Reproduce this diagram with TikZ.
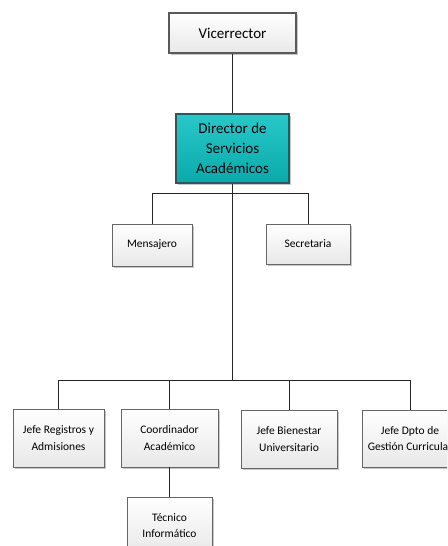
\documentclass[tikz,border=0pt]{standalone}
\usepackage{fontspec}
\setmainfont{Carlito}
\usetikzlibrary{shadows}
\definecolor{tealtop}{RGB}{40,200,200}
\definecolor{tealbot}{RGB}{10,170,170}
\definecolor{tealedge}{RGB}{40,90,90}
\begin{document}
\begin{tikzpicture}[x=1pt,y=-1pt,
  box/.style={draw=gray!80!black, line width=0.7pt, top color=white, bottom color=gray!18,
    align=center, inner sep=2pt, font=\fontsize{11.5}{16.5}\selectfont,
    drop shadow={shadow xshift=1.5pt, shadow yshift=-1.5pt, fill=gray!55, opacity=0.8}},
  bigbox/.style={box, line width=1.2pt, draw=gray!70!black, font=\fontsize{15}{20}\selectfont},
  headbox/.style={bigbox, draw=tealedge, top color=tealtop, bottom color=tealbot},
  link/.style={draw=black!85, line width=0.7pt}]
\useasboundingbox (0,0) rectangle (447,546);
\clip (0,0) rectangle (447,546);

% top of the hierarchy
\node[bigbox, minimum width=127, minimum height=40] (vr) at (232.5,33) {Vicerrector};
\node[headbox, minimum width=113, minimum height=69] (dir) at (232.5,148.5) {Director de\\Servicios\\Académicos};

% staff directly attached to the director
\node[box, minimum width=80, minimum height=42] (men) at (152,245) {Mensajero};
\node[box, minimum width=84, minimum height=40] (sec) at (308,244) {Secretaria};

% department heads
\node[box, minimum width=91, minimum height=58] (jr) at (58.5,438) {Jefe Registros y\\Admisiones};
\node[box, minimum width=97, minimum height=58] (ca) at (169.5,438) {Coordinador\\Académico};
\node[box, minimum width=96, minimum height=58] (jb) at (289,439) {Jefe Bienestar\\Universitario};
\node[box, minimum width=96, minimum height=57] (jd) at (410,438.5) {Jefe Dpto de\\Gestión Curricular};

% below the coordinator
\node[box, minimum width=85, minimum height=56, anchor=north] (ti) at (169.5,497) {Técnico\\Informático};

% branching points
\coordinate (b1) at (232.5,193);
\coordinate (b2) at (232.5,380);

% connectors
\draw[link] (vr) -- (dir);
\draw[link] (dir) -- (b2);
\draw[link] (b1) -| (men);
\draw[link] (b1) -| (sec);
\draw[link] (b2) -| (jr);
\draw[link] (b2) -| (ca);
\draw[link] (b2) -| (jb);
\draw[link] (b2) -| (jd);
\draw[link] (ca) -- (ti);
\end{tikzpicture}
\end{document}
